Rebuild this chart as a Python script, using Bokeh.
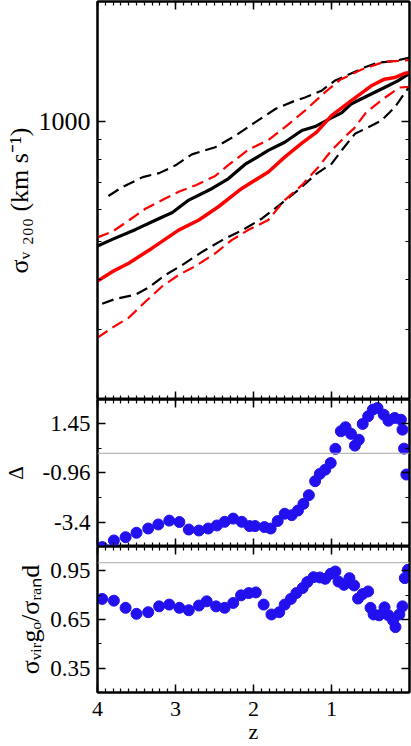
import numpy as np
from bokeh.plotting import figure
from bokeh.models import Range1d, LinearAxis, LogAxis, FixedTicker, Span
from bokeh.layouts import column
from bokeh.embed import file_html
from bokeh.resources import INLINE

FONT = "Liberation Serif"
BLUE = "#2211ee"

# ---- top panel: sigma_v200 (km/s) vs redshift ----
z_black = [4.00, 3.81, 3.51, 3.21, 3.04, 2.83, 2.53, 2.32, 2.11, 1.81, 1.60, 1.38, 1.21, 1.00, 0.87, 0.75, 0.49, 0.32, 0.15, 0.00]
sig_black = [486, 505, 535, 570, 590, 634, 678, 718, 779, 845, 886, 948, 970, 1020, 1050, 1105, 1171, 1216, 1264, 1320]

z_red = [4.00, 3.81, 3.60, 3.30, 2.96, 2.70, 2.45, 2.15, 1.81, 1.60, 1.38, 1.19, 1.00, 0.75, 0.62, 0.49, 0.32, 0.19, 0.07, 0.00]
sig_red = [397, 419, 440, 480, 533, 565, 610, 678, 746, 813, 881, 939, 1033, 1126, 1175, 1228, 1276, 1288, 1318, 1326]

z_black_hi = [3.86, 3.68, 3.42, 3.21, 3.00, 2.79, 2.49, 2.23, 1.98, 1.72, 1.47, 1.34, 1.13, 0.96, 0.75, 0.58, 0.41, 0.19, 0.00]
sig_black_hi = [649, 684, 724, 741, 775, 826, 861, 921, 994, 1074, 1126, 1148, 1193, 1264, 1318, 1365, 1404, 1418, 1445]

z_black_lo = [3.94, 3.77, 3.51, 3.34, 3.13, 2.91, 2.65, 2.40, 2.14, 1.89, 1.64, 1.43, 1.19, 1.00, 0.87, 0.70, 0.49, 0.36, 0.19, 0.00]
sig_black_lo = [348, 358, 367, 383, 411, 436, 471, 503, 533, 570, 622, 671, 739, 782, 845, 930, 975, 1004, 1084, 1225]

z_red_hi = [4.00, 3.81, 3.59, 3.38, 3.17, 2.96, 2.74, 2.49, 2.32, 2.06, 1.81, 1.58, 1.34, 1.08, 0.89, 0.62, 0.33, 0.07, 0.00]
sig_red_hi = [511, 528, 565, 604, 634, 665, 691, 729, 777, 850, 897, 973, 1064, 1184, 1271, 1347, 1410, 1421, 1424]

z_red_lo = [4.00, 3.81, 3.60, 3.38, 3.17, 2.96, 2.75, 2.49, 2.28, 2.07, 1.81, 1.60, 1.38, 1.17, 1.00, 0.79, 0.71, 0.56, 0.36, 0.13, 0.00]
sig_red_lo = [286, 303, 321, 353, 385, 411, 432, 466, 503, 533, 565, 634, 691, 767, 845, 930, 960, 1050, 1130, 1216, 1220]

# ---- middle panel: Delta ----
z_delta = [3.94, 3.79, 3.64, 3.50, 3.35, 3.22, 3.08, 2.95, 2.83, 2.70, 2.58, 2.47, 2.37, 2.26, 2.15, 2.05,
           1.98, 1.86, 1.78, 1.69, 1.60, 1.51, 1.43, 1.36, 1.29, 1.21, 1.15, 1.08, 1.01, 0.95, 0.88, 0.82,
           0.75, 0.70, 0.65, 0.60, 0.53, 0.47, 0.41, 0.33, 0.27, 0.19, 0.11, 0.09, 0.07, 0.04]
delta = [-4.64, -4.31, -4.15, -3.93, -3.72, -3.52, -3.33, -3.40, -3.77, -3.82, -3.72, -3.57, -3.39, -3.23, -3.39, -3.60,
         -3.60, -3.65, -3.72, -3.35, -2.99, -3.06, -2.83, -2.50, -2.07, -1.38, -1.02, -0.81, -0.48, 0.22, 1.09, 1.29,
         0.96, 0.38, 0.67, 1.45, 1.83, 2.16, 2.24, 1.91, 1.61, 1.75, 1.66, 1.17, 0.23, -1.05]

# ---- bottom panel: sigma_virgo / sigma_rand ----
z_ratio = [3.94, 3.79, 3.64, 3.50, 3.35, 3.21, 3.08, 2.95, 2.83, 2.70, 2.60, 2.48, 2.37, 2.26, 2.16, 2.06,
           1.97, 1.87, 1.77, 1.67, 1.60, 1.52, 1.45, 1.37, 1.31, 1.23, 1.15, 1.08, 1.01, 0.95, 0.91, 0.84,
           0.77, 0.71, 0.66, 0.60, 0.53, 0.50, 0.46, 0.39, 0.32, 0.27, 0.21, 0.18, 0.13, 0.09, 0.06, 0.02]
ratio = [0.777, 0.766, 0.722, 0.685, 0.695, 0.731, 0.742, 0.722, 0.707, 0.736, 0.762, 0.731, 0.722, 0.752, 0.799, 0.813,
         0.817, 0.742, 0.681, 0.695, 0.742, 0.777, 0.813, 0.844, 0.881, 0.911, 0.909, 0.901, 0.932, 0.946, 0.884, 0.864,
         0.905, 0.860, 0.779, 0.807, 0.823, 0.722, 0.681, 0.676, 0.725, 0.676, 0.644, 0.603, 0.681, 0.731, 0.905, 0.956]

# ---- ticks ----
x_ticks = [4, 3, 2, 1]
x_labels = {4: "4", 3: "3", 2: "2", 1: "1"}
x_minor = [round(0.1 * i, 1) for i in range(41)]
top_ticks = [1000]
top_labels = {1000: "1000"}
top_minor = [200, 300, 400, 500, 600, 700, 800, 900, 2000]
delta_ticks = [-3.4, -0.96, 1.45]
delta_labels = {-3.4: "-3.4", -0.96: "-0.96", 1.45: "1.45"}
delta_minor = [-2.18, 0.245]
ratio_ticks = [0.35, 0.65, 0.95]
ratio_labels = {0.35: "0.35", 0.65: "0.65", 0.95: "0.95"}
ratio_minor = [0.2, 0.5, 0.8, 1.1]

# ---- axis titles ----
top_title = "σᵥ ₂₀₀ (km s⁻¹)"
mid_title = "Δ"
bot_title = "σᵥᵢᵣgₒ/σᵣₐₙd"
x_title = "z"


def base_fig(height, y_range, log=False, top=0, bottom=0):
    kw = dict(width=411, height=height, x_range=Range1d(4, 0), y_range=y_range,
              x_axis_location=None, y_axis_location=None, toolbar_location=None,
              output_backend="svg", min_border_left=95, min_border_right=2,
              min_border_top=top, min_border_bottom=bottom)
    if log:
        kw["y_axis_type"] = "log"
    p = figure(**kw)
    p.grid.grid_line_color = None
    p.outline_line_color = "black"
    p.outline_line_width = 2
    p.background_fill_color = "white"
    p.border_fill_color = "white"
    return p


def add_axis(p, side, ticks, minor, log=False, labels=None, size="23px", standoff=7,
             title=None, title_size="24px", title_standoff=10):
    cls = LogAxis if log else LinearAxis
    ax = cls(ticker=FixedTicker(ticks=ticks, minor_ticks=minor))
    ax.axis_line_color = "black"
    ax.axis_line_width = 2
    ax.major_tick_in = 8
    ax.major_tick_out = 0
    ax.minor_tick_in = 4
    ax.minor_tick_out = 0
    ax.major_tick_line_width = 1.5
    ax.minor_tick_line_width = 1.2
    if labels is None:
        ax.major_label_overrides = {t: "" for t in ticks}
        ax.major_label_text_font_size = "0px"
        ax.major_label_standoff = 0
    else:
        ax.major_label_overrides = labels
        ax.major_label_text_font = FONT
        ax.major_label_text_font_size = size
        ax.major_label_text_color = "black"
        ax.major_label_standoff = standoff
    if title is not None:
        ax.axis_label = title
        ax.axis_label_text_font = FONT
        ax.axis_label_text_font_size = title_size
        ax.axis_label_text_font_style = "normal"
        ax.axis_label_text_color = "black"
        ax.axis_label_standoff = title_standoff
    p.add_layout(ax, side)
    return ax


# ---- top figure ----
p1 = base_fig(399, Range1d(200, 2000), log=True, top=1, bottom=0)
add_axis(p1, "left", top_ticks, top_minor, log=True, labels=top_labels, size="26px",
         title=top_title, title_size="26px", title_standoff=2)
add_axis(p1, "right", top_ticks, top_minor, log=True)
add_axis(p1, "above", x_ticks, x_minor)
add_axis(p1, "below", x_ticks, x_minor)
p1.line(z_black_hi, sig_black_hi, line_color="black", line_width=2.2, line_dash="12 6")
p1.line(z_black_lo, sig_black_lo, line_color="black", line_width=2.2, line_dash="12 6")
p1.line(z_red_hi, sig_red_hi, line_color="#ff0000", line_width=2.2, line_dash="12 6")
p1.line(z_red_lo, sig_red_lo, line_color="#ff0000", line_width=2.2, line_dash="12 6")
p1.line(z_black, sig_black, line_color="black", line_width=3.2)
p1.line(z_red, sig_red, line_color="#ff0000", line_width=3.5)

# ---- middle figure ----
p2 = base_fig(147, Range1d(-4.61, 2.66), top=0, bottom=0)
add_axis(p2, "left", delta_ticks, delta_minor, labels=delta_labels,
         title=mid_title, title_size="21px", title_standoff=12)
add_axis(p2, "right", delta_ticks, delta_minor)
add_axis(p2, "above", x_ticks, x_minor)
add_axis(p2, "below", x_ticks, x_minor)
p2.add_layout(Span(location=0, dimension="width", line_color="#a8a8a8", line_width=1))
p2.scatter(z_delta, delta, marker="circle", size=11, fill_color=BLUE, line_color=BLUE)

# ---- bottom figure ----
p3 = base_fig(200, Range1d(0.2, 1.1), top=0, bottom=53)
add_axis(p3, "left", ratio_ticks, ratio_minor, labels=ratio_labels,
         title=bot_title, title_size="26px", title_standoff=2)
add_axis(p3, "right", ratio_ticks, ratio_minor)
add_axis(p3, "above", x_ticks, x_minor)
add_axis(p3, "below", x_ticks, x_minor, labels=x_labels, size="22px", standoff=9,
         title=x_title, title_size="22px", title_standoff=0)
p3.add_layout(Span(location=1.0, dimension="width", line_color="#a8a8a8", line_width=1))
p3.scatter(z_ratio, ratio, marker="circle", size=11, fill_color=BLUE, line_color=BLUE)

layout = column(p1, p2, p3, spacing=0)
open("out.html", "w").write(file_html(layout, INLINE))
